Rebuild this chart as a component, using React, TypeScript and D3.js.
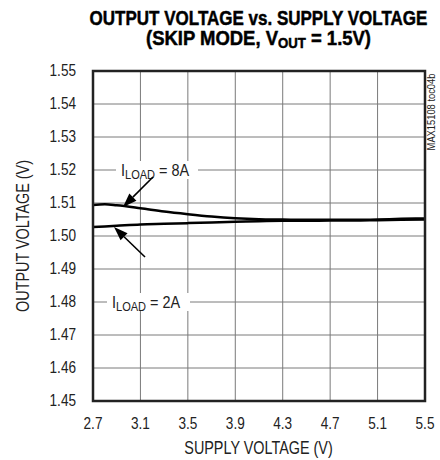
import React from "react";
import * as d3 from "d3";

const supplyV = [2.7, 2.8, 2.9, 3.1, 3.3, 3.5, 3.7, 3.9, 4.1, 4.3, 4.5, 4.7, 4.9, 5.1, 5.3, 5.5];
const load8A = [1.5094, 1.5096, 1.5093, 1.5084, 1.5074, 1.5066, 1.5059, 1.5054, 1.5051, 1.505, 1.5049, 1.5049, 1.5049, 1.505, 1.5052, 1.5053];
const load2A = [1.5027, 1.5029, 1.5031, 1.5035, 1.5037, 1.5039, 1.5041, 1.5043, 1.5045, 1.5046, 1.5046, 1.5047, 1.5047, 1.5048, 1.5049, 1.505];
const xTicks = [2.7, 3.1, 3.5, 3.9, 4.3, 4.7, 5.1, 5.5];
const yTicks = [1.45, 1.46, 1.47, 1.48, 1.49, 1.5, 1.51, 1.52, 1.53, 1.54, 1.55];

const FONT = "'Liberation Sans', Arial, sans-serif";
const SX = 0.8;

export default function App() {
  const left = 93, right = 425, top = 71, bottom = 401;
  const x = d3.scaleLinear().domain([2.7, 5.5]).range([left, right]);
  const y = d3.scaleLinear().domain([1.45, 1.55]).range([bottom, top]);
  const line = d3
    .line<number>()
    .x((_, i) => x(supplyV[i]))
    .y((d) => y(d))
    .curve(d3.curveMonotoneX);

  const arrow = (x1: number, y1: number, x2: number, y2: number, key: string) => {
    const ang = Math.atan2(y2 - y1, x2 - x1);
    const L = 14, W = 5;
    const bx = x2 - L * Math.cos(ang), by = y2 - L * Math.sin(ang);
    const px = -Math.sin(ang) * W, py = Math.cos(ang) * W;
    return (
      <g key={key}>
        <line x1={x1} y1={y1} x2={bx} y2={by} stroke="#000" strokeWidth={1.6} />
        <path d={`M${x2},${y2}L${bx + px},${by + py}L${bx - px},${by - py}Z`} fill="#000" />
      </g>
    );
  };

  const tr = (tx: number, ty: number, s = SX) => `translate(${tx},${ty}) scale(${s},1)`;

  return (
    <svg width={440} height={460} style={{ position: "absolute", left: 0, top: 0, background: "#fff" }} fontFamily={FONT}>
      <text transform={tr(258.5, 25, 0.81)} textAnchor="middle" fontSize={21} fontWeight="bold" stroke="#000" strokeWidth={0.5}>
        OUTPUT VOLTAGE vs. SUPPLY VOLTAGE
      </text>
      <text transform={tr(258.5, 45, 0.88)} textAnchor="middle" fontSize={21} fontWeight="bold" stroke="#000" strokeWidth={0.5}>
        (SKIP MODE, V<tspan fontSize={15} dy={3}>OUT</tspan>
        <tspan dy={-3}> = 1.5V)</tspan>
      </text>

      {yTicks.slice(1, -1).map((t) => (
        <line key={"gy" + t} x1={left} x2={right} y1={y(t)} y2={y(t)} stroke="#7a7a7a" strokeWidth={1} />
      ))}
      {xTicks.slice(1, -1).map((t) => (
        <line key={"gx" + t} x1={x(t)} x2={x(t)} y1={top} y2={bottom} stroke="#7a7a7a" strokeWidth={1} />
      ))}

      {yTicks.map((t) => (
        <text key={"yl" + t} transform={tr(76, y(t) + 5)} textAnchor="end" fontSize={17} fill="#222">
          {t.toFixed(2)}
        </text>
      ))}
      {xTicks.map((t) => (
        <text key={"xl" + t} transform={tr(x(t), 429)} textAnchor="middle" fontSize={17} fill="#222">
          {t.toFixed(1)}
        </text>
      ))}
      <text transform={tr(258.5, 454)} textAnchor="middle" fontSize={18} fill="#222">SUPPLY VOLTAGE (V)</text>
      <text transform={`translate(29,${(top + bottom) / 2}) rotate(-90) scale(${SX},1)`} textAnchor="middle" fontSize={18} fill="#222">
        OUTPUT VOLTAGE (V)
      </text>
      <text transform={`translate(435,112) rotate(-90) scale(0.85,1)`} textAnchor="middle" fontSize={11} fill="#222">
        MAX15108 toc04b
      </text>

      <path d={line(load8A) || ""} fill="none" stroke="#000" strokeWidth={2.5} />
      <path d={line(load2A) || ""} fill="none" stroke="#000" strokeWidth={2.5} />

      <rect x={116} y={y(1.52) - 9} width={82} height={18} fill="#fff" />
      <text transform={tr(121, y(1.52) + 6, 0.85)} fontSize={17} fill="#222">
        I<tspan fontSize={13} dy={3}>LOAD</tspan>
        <tspan dy={-3}> = 8A</tspan>
      </text>
      <rect x={107} y={y(1.48) - 9} width={83} height={18} fill="#fff" />
      <text transform={tr(112, y(1.48) + 6, 0.85)} fontSize={17} fill="#222">
        I<tspan fontSize={13} dy={3}>LOAD</tspan>
        <tspan dy={-3}> = 2A</tspan>
      </text>
      {arrow(153, 177, 123, 207, "a1")}
      {arrow(145, 257, 114, 227, "a2")}

      <rect x={left} y={top} width={right - left} height={bottom - top} fill="none" stroke="#222" strokeWidth={2.5} />
    </svg>
  );
}
